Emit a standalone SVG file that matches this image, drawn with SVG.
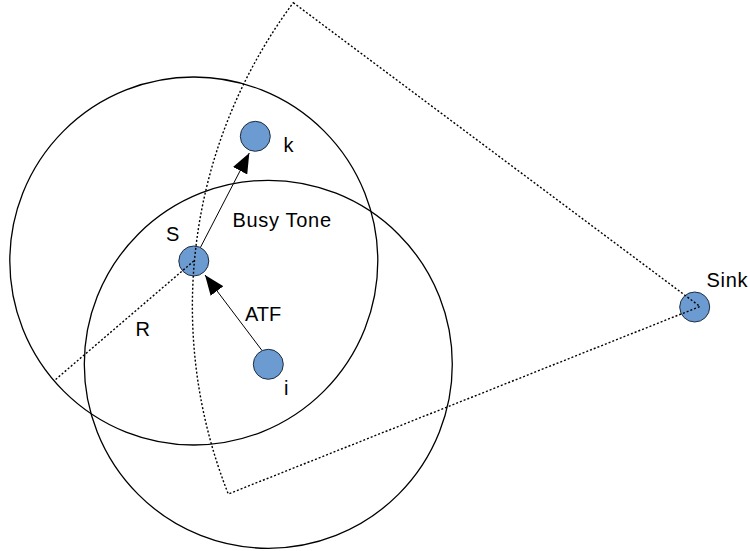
<svg xmlns="http://www.w3.org/2000/svg" width="750" height="551" viewBox="0 0 750 551">
<defs>
<style>
.ring{fill:none;stroke:#000;stroke-width:1.3}
.dot{fill:none;stroke:#000;stroke-width:1.4;stroke-dasharray:2 2}
.node{fill:#6C9BD2;stroke:#1e2d40;stroke-width:1}
.edge{fill:none;stroke:#000;stroke-width:1}
.lbl{font-family:"Liberation Sans",Arial,sans-serif;font-size:20px;fill:#000}
</style>
<marker id="arr" viewBox="0 0 20 16" refX="20" refY="8" markerWidth="20" markerHeight="16" markerUnits="userSpaceOnUse" orient="auto">
<path d="M0,0 L20,8 L0,16 Z" fill="#000"/>
</marker>
</defs>
<rect width="750" height="551" fill="#fff"/>
<g id="ranges">
<circle class="ring" cx="193.8" cy="261" r="184"/>
<circle class="ring" cx="268.3" cy="364.3" r="184"/>
</g>
<g id="nodes">
<g id="node-k"><circle class="node" cx="255.3" cy="136.3" r="15"/><text class="lbl" x="283.5" y="151.7">k</text></g>
<g id="node-S"><circle class="node" cx="193.8" cy="261" r="15"/><text class="lbl" x="166" y="241.3">S</text></g>
<g id="node-i"><circle class="node" cx="268.3" cy="364.3" r="15"/><text class="lbl" x="284" y="395">i</text></g>
<g id="node-sink"><circle class="node" cx="694.7" cy="307" r="15"/><text class="lbl" x="706.5" y="286.7" textLength="41" lengthAdjust="spacing">Sink</text></g>
</g>
<g id="connectors">
<path class="dot" d="M293.3,2.7 L700,306.5 L228.3,494 A507.6,507.6 0 0 1 293.3,2.7 Z"/>
<line class="dot" x1="193.8" y1="261" x2="55" y2="380"/>
<line class="edge" x1="200.4" y1="247.5" x2="249.3" y2="153" marker-end="url(#arr)"/>
<line class="edge" x1="262" y1="350.5" x2="205" y2="275" marker-end="url(#arr)"/>
</g>
<g id="labels">
<text class="lbl" x="232.5" y="226.7" textLength="98.5" lengthAdjust="spacing">Busy Tone</text>
<text class="lbl" x="245" y="320.7">ATF</text>
<text class="lbl" x="135.5" y="336">R</text>
</g>
</svg>
